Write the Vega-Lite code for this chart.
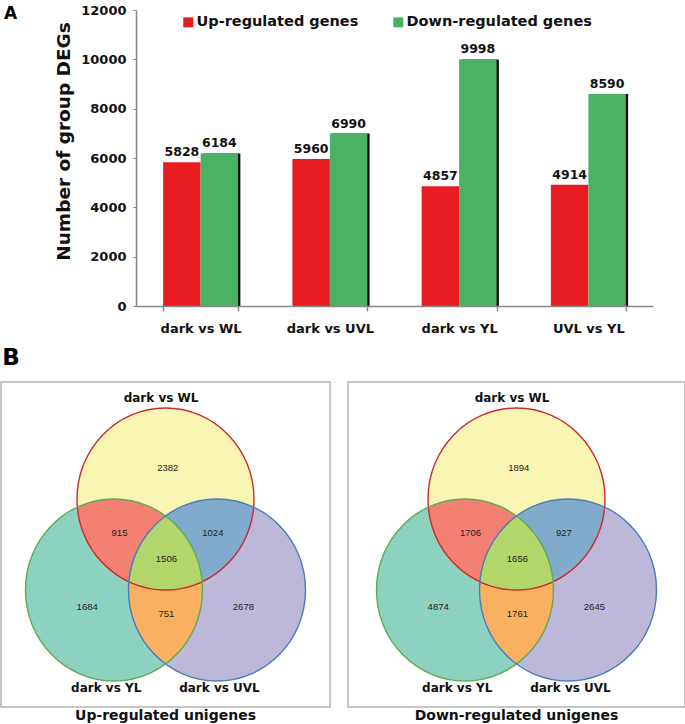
{
  "$schema": "https://vega.github.io/schema/vega-lite/v6.json",
  "background": "white",
  "padding": {"left": 0, "top": 4, "right": 0, "bottom": 0},
  "config": {"font": "DejaVu Sans", "view": {"stroke": null}},
  "datasets": {
    "degs": [
      {"comparison": "dark vs WL", "direction": "Up-regulated genes", "count": 5828},
      {"comparison": "dark vs WL", "direction": "Down-regulated genes", "count": 6184},
      {"comparison": "dark vs UVL", "direction": "Up-regulated genes", "count": 5960},
      {"comparison": "dark vs UVL", "direction": "Down-regulated genes", "count": 6990},
      {"comparison": "dark vs YL", "direction": "Up-regulated genes", "count": 4857},
      {"comparison": "dark vs YL", "direction": "Down-regulated genes", "count": 9998},
      {"comparison": "UVL vs YL", "direction": "Up-regulated genes", "count": 4914},
      {"comparison": "UVL vs YL", "direction": "Down-regulated genes", "count": 8590}
    ],
    "regions": [
      {"region": "T", "u": 0.025, "v": -0.84},
      {"region": "G", "u": -0.885, "v": 0.687},
      {"region": "P", "u": 0.88, "v": 0.687},
      {"region": "TG", "u": -0.52, "v": -0.126},
      {"region": "TP", "u": 0.535, "v": -0.126},
      {"region": "GP", "u": 0.01, "v": 0.764},
      {"region": "TGP", "u": 0.01, "v": 0.159}
    ],
    "counts": [
      {"panel": "up", "region": "T", "count": 2382},
      {"panel": "up", "region": "TG", "count": 915},
      {"panel": "up", "region": "TP", "count": 1024},
      {"panel": "up", "region": "TGP", "count": 1506},
      {"panel": "up", "region": "G", "count": 1684},
      {"panel": "up", "region": "GP", "count": 751},
      {"panel": "up", "region": "P", "count": 2678},
      {"panel": "down", "region": "T", "count": 1894},
      {"panel": "down", "region": "TG", "count": 1706},
      {"panel": "down", "region": "TP", "count": 927},
      {"panel": "down", "region": "TGP", "count": 1656},
      {"panel": "down", "region": "G", "count": 4874},
      {"panel": "down", "region": "GP", "count": 1761},
      {"panel": "down", "region": "P", "count": 2645}
    ],
    "circleNames": [
      {"region": "T", "name": "dark vs WL", "u": -0.05, "v": -1.61},
      {"region": "G", "name": "dark vs YL", "u": -0.67, "v": 1.577},
      {"region": "P", "name": "dark vs UVL", "u": 0.61, "v": 1.577}
    ]
  },
  "spacing": 12,
  "vconcat": [
    {
      "width": 652,
      "height": 296,
      "data": {"name": "degs"},
      "title": {"text": "A", "anchor": "start", "frame": "group", "orient": "top", "fontSize": 17, "fontWeight": "bold", "font": "DejaVu Sans", "color": "#000", "baseline": "top", "offset": 0, "dx": 3, "dy": 18.5},
      "encoding": {
        "x": {
          "field": "comparison", "type": "nominal",
          "sort": ["dark vs WL", "dark vs UVL", "dark vs YL", "UVL vs YL"],
          "scale": {"paddingInner": 0.42, "paddingOuter": 0.21, "range": [135, 652]},
          "axis": {"title": null, "labelAngle": 0, "labelFontSize": 13, "labelFontWeight": "bold", "labelColor": "#111", "tickBand": "extent", "tickSize": 5, "labelPadding": 11, "domainColor": "#888", "tickColor": "#888", "domainWidth": 1.5, "tickWidth": 1.5, "zindex": 1}
        },
        "y": {
          "field": "count", "type": "quantitative",
          "scale": {"domain": [0, 12000], "nice": false},
          "axis": {"offset": -135, "title": "Number of group DEGs", "titleFontSize": 18.5, "titleFontWeight": "bold", "titleFont": "DejaVu Sans", "titleColor": "#111", "titleX": -63, "titleY": 131, "values": [0, 2000, 4000, 6000, 8000, 10000, 12000], "format": "d", "grid": false, "tickSize": 3, "labelPadding": 7, "labelFontSize": 13, "labelFontWeight": "bold", "labelColor": "#111", "domainColor": "#888", "tickColor": "#888", "domainWidth": 1.5, "tickWidth": 1, "zindex": 1}
        }
      },
      "layer": [
        {
          "transform": [{"filter": "datum.direction === 'Down-regulated genes'"}],
          "mark": {"type": "bar", "color": "#0a0a0a", "width": {"band": 0.5}, "xOffset": 21}
        },
        {
          "mark": {"type": "bar"},
          "encoding": {
            "xOffset": {"field": "direction", "type": "nominal", "sort": ["Up-regulated genes", "Down-regulated genes"], "scale": {"paddingInner": 0, "paddingOuter": 0}},
            "color": {
              "field": "direction", "type": "nominal",
              "scale": {"domain": ["Up-regulated genes", "Down-regulated genes"], "range": ["#e81b23", "#4cb263"]},
              "legend": {"orient": "none", "legendX": 180, "legendY": 5, "direction": "horizontal", "title": null, "symbolType": "square", "symbolSize": 100, "symbolStrokeWidth": 0, "labelFontSize": 14.5, "labelFontWeight": "bold", "labelFont": "DejaVu Sans", "labelColor": "#111", "labelOffset": 1, "columnPadding": 32, "labelLimit": 400, "padding": 0}
            }
          }
        },
        {
          "mark": {"type": "text", "baseline": "alphabetic", "dy": -6, "fontSize": 12.5, "fontWeight": "bold", "color": "#111"},
          "encoding": {
            "xOffset": {"field": "direction", "type": "nominal", "sort": ["Up-regulated genes", "Down-regulated genes"], "scale": {"paddingInner": 0, "paddingOuter": 0}},
            "text": {"field": "count", "type": "quantitative", "format": "d"}
          }
        }
      ]
    },
    {
      "title": {"text": "B", "anchor": "start", "frame": "bounds", "fontSize": 23, "fontWeight": "bold", "font": "DejaVu Sans", "color": "#000", "baseline": "bottom", "offset": -12, "dx": 2},
      "spacing": 16,
      "hconcat": [
        {
          "width": 329,
          "height": 325,
          "view": {"stroke": "#b4b4b4", "strokeWidth": 1.5},
          "title": {"text": "Up-regulated unigenes", "orient": "bottom", "fontSize": 14, "fontWeight": "bold", "font": "DejaVu Sans", "color": "#111", "baseline": "top", "offset": 2},
          "layer": [
            {
              "data": {"name": "regions"},
              "mark": {"type": "point", "filled": true, "opacity": 1, "size": 4, "strokeWidth": 0},
              "encoding": {
                "x": {"datum": 0, "type": "quantitative", "scale": {"domain": [-1.8588, 1.8588], "nice": false, "zero": false}, "axis": null},
                "y": {"datum": 0, "type": "quantitative", "scale": {"domain": [-1.7857, 1.7857], "nice": false, "zero": false, "reverse": true}, "axis": null},
                "shape": {
                  "field": "region", "type": "nominal", "legend": null,
                  "scale": {
                    "domain": ["T", "G", "P", "TG", "TP", "GP", "TGP"],
                    "range": [
                      "M -88.5 -45.5 A 88.5 91 0 1 1 88.5 -45.5 A 88.5 91 0 1 1 -88.5 -45.5 Z",
                      "M -140 45.5 A 88.5 91 0 1 1 37 45.5 A 88.5 91 0 1 1 -140 45.5 Z",
                      "M -37 45.5 A 88.5 91 0 1 1 140 45.5 A 88.5 91 0 1 1 -37 45.5 Z",
                      "M -88.15 -37.34 A 88.5 91 0 0 1 36.65 37.34 A 88.5 91 0 0 1 -88.15 -37.34 Z",
                      "M -36.65 37.34 A 88.5 91 0 0 1 88.15 -37.34 A 88.5 91 0 0 1 -36.65 37.34 Z",
                      "M 0 -28.5 A 88.5 91 0 0 1 0 119.5 A 88.5 91 0 0 1 0 -28.5 Z",
                      "M -36.65 37.34 A 88.5 91 0 0 1 0 -28.5 A 88.5 91 0 0 1 36.65 37.34 A 88.5 91 0 0 1 -36.65 37.34 Z"
                    ]
                  }
                },
                "fill": {
                  "field": "region", "type": "nominal", "legend": null,
                  "scale": {"domain": ["T", "G", "P", "TG", "TP", "GP", "TGP"], "range": ["#f8f6b2", "#8dd1c1", "#bdb8da", "#f28073", "#80abcd", "#f9b061", "#b3d66b"]}
                }
              }
            },
            {
              "data": {"name": "regions"},
              "transform": [{"filter": {"field": "region", "oneOf": ["T", "G", "P"]}}],
              "mark": {"type": "point", "filled": false, "opacity": 1, "size": 4, "strokeWidth": 1.4},
              "encoding": {
                "x": {"datum": 0, "type": "quantitative", "scale": {"domain": [-1.8588, 1.8588], "nice": false, "zero": false}, "axis": null},
                "y": {"datum": 0, "type": "quantitative", "scale": {"domain": [-1.7857, 1.7857], "nice": false, "zero": false, "reverse": true}, "axis": null},
                "shape": {
                  "field": "region", "type": "nominal", "legend": null,
                  "scale": {
                    "domain": ["T", "G", "P", "TG", "TP", "GP", "TGP"],
                    "range": [
                      "M -88.5 -45.5 A 88.5 91 0 1 1 88.5 -45.5 A 88.5 91 0 1 1 -88.5 -45.5 Z",
                      "M -140 45.5 A 88.5 91 0 1 1 37 45.5 A 88.5 91 0 1 1 -140 45.5 Z",
                      "M -37 45.5 A 88.5 91 0 1 1 140 45.5 A 88.5 91 0 1 1 -37 45.5 Z",
                      "M -88.15 -37.34 A 88.5 91 0 0 1 36.65 37.34 A 88.5 91 0 0 1 -88.15 -37.34 Z",
                      "M -36.65 37.34 A 88.5 91 0 0 1 88.15 -37.34 A 88.5 91 0 0 1 -36.65 37.34 Z",
                      "M 0 -28.5 A 88.5 91 0 0 1 0 119.5 A 88.5 91 0 0 1 0 -28.5 Z",
                      "M -36.65 37.34 A 88.5 91 0 0 1 0 -28.5 A 88.5 91 0 0 1 36.65 37.34 A 88.5 91 0 0 1 -36.65 37.34 Z"
                    ]
                  }
                },
                "stroke": {
                  "field": "region", "type": "nominal", "legend": null,
                  "scale": {"domain": ["T", "G", "P"], "range": ["#cc2a2e", "#5dac55", "#4a7cb8"]}
                }
              }
            },
            {
              "data": {"name": "counts"},
              "transform": [
                {"filter": "datum.panel === 'up'"},
                {"lookup": "region", "from": {"data": {"name": "regions"}, "key": "region", "fields": ["u", "v"]}}
              ],
              "mark": {"type": "text", "font": "Liberation Sans", "fontSize": 9.5, "color": "#222"},
              "encoding": {
                "x": {"field": "u", "type": "quantitative", "scale": {"domain": [-1.8588, 1.8588], "nice": false, "zero": false}, "axis": null},
                "y": {"field": "v", "type": "quantitative", "scale": {"domain": [-1.7857, 1.7857], "nice": false, "zero": false, "reverse": true}, "axis": null},
                "text": {"field": "count", "type": "nominal"}
              }
            },
            {
              "data": {"name": "circleNames"},
              "mark": {"type": "text", "fontSize": 12, "fontWeight": "bold", "color": "#111"},
              "encoding": {
                "x": {"field": "u", "type": "quantitative", "scale": {"domain": [-1.8588, 1.8588], "nice": false, "zero": false}, "axis": null},
                "y": {"field": "v", "type": "quantitative", "scale": {"domain": [-1.7857, 1.7857], "nice": false, "zero": false, "reverse": true}, "axis": null},
                "text": {"field": "name", "type": "nominal"}
              }
            }
          ]
        },
        {
          "width": 337,
          "height": 325,
          "view": {"stroke": "#b4b4b4", "strokeWidth": 1.5},
          "title": {"text": "Down-regulated unigenes", "orient": "bottom", "fontSize": 14, "fontWeight": "bold", "font": "DejaVu Sans", "color": "#111", "baseline": "top", "offset": 2},
          "layer": [
            {
              "data": {"name": "regions"},
              "mark": {"type": "point", "filled": true, "opacity": 1, "size": 4, "strokeWidth": 0},
              "encoding": {
                "x": {"datum": 0, "type": "quantitative", "scale": {"domain": [-1.904, 1.904], "nice": false, "zero": false}, "axis": null},
                "y": {"datum": 0, "type": "quantitative", "scale": {"domain": [-1.7857, 1.7857], "nice": false, "zero": false, "reverse": true}, "axis": null},
                "shape": {
                  "field": "region", "type": "nominal", "legend": null,
                  "scale": {
                    "domain": ["T", "G", "P", "TG", "TP", "GP", "TGP"],
                    "range": [
                      "M -88.5 -45.5 A 88.5 91 0 1 1 88.5 -45.5 A 88.5 91 0 1 1 -88.5 -45.5 Z",
                      "M -140 45.5 A 88.5 91 0 1 1 37 45.5 A 88.5 91 0 1 1 -140 45.5 Z",
                      "M -37 45.5 A 88.5 91 0 1 1 140 45.5 A 88.5 91 0 1 1 -37 45.5 Z",
                      "M -88.15 -37.34 A 88.5 91 0 0 1 36.65 37.34 A 88.5 91 0 0 1 -88.15 -37.34 Z",
                      "M -36.65 37.34 A 88.5 91 0 0 1 88.15 -37.34 A 88.5 91 0 0 1 -36.65 37.34 Z",
                      "M 0 -28.5 A 88.5 91 0 0 1 0 119.5 A 88.5 91 0 0 1 0 -28.5 Z",
                      "M -36.65 37.34 A 88.5 91 0 0 1 0 -28.5 A 88.5 91 0 0 1 36.65 37.34 A 88.5 91 0 0 1 -36.65 37.34 Z"
                    ]
                  }
                },
                "fill": {
                  "field": "region", "type": "nominal", "legend": null,
                  "scale": {"domain": ["T", "G", "P", "TG", "TP", "GP", "TGP"], "range": ["#f8f6b2", "#8dd1c1", "#bdb8da", "#f28073", "#80abcd", "#f9b061", "#b3d66b"]}
                }
              }
            },
            {
              "data": {"name": "regions"},
              "transform": [{"filter": {"field": "region", "oneOf": ["T", "G", "P"]}}],
              "mark": {"type": "point", "filled": false, "opacity": 1, "size": 4, "strokeWidth": 1.4},
              "encoding": {
                "x": {"datum": 0, "type": "quantitative", "scale": {"domain": [-1.904, 1.904], "nice": false, "zero": false}, "axis": null},
                "y": {"datum": 0, "type": "quantitative", "scale": {"domain": [-1.7857, 1.7857], "nice": false, "zero": false, "reverse": true}, "axis": null},
                "shape": {
                  "field": "region", "type": "nominal", "legend": null,
                  "scale": {
                    "domain": ["T", "G", "P", "TG", "TP", "GP", "TGP"],
                    "range": [
                      "M -88.5 -45.5 A 88.5 91 0 1 1 88.5 -45.5 A 88.5 91 0 1 1 -88.5 -45.5 Z",
                      "M -140 45.5 A 88.5 91 0 1 1 37 45.5 A 88.5 91 0 1 1 -140 45.5 Z",
                      "M -37 45.5 A 88.5 91 0 1 1 140 45.5 A 88.5 91 0 1 1 -37 45.5 Z",
                      "M -88.15 -37.34 A 88.5 91 0 0 1 36.65 37.34 A 88.5 91 0 0 1 -88.15 -37.34 Z",
                      "M -36.65 37.34 A 88.5 91 0 0 1 88.15 -37.34 A 88.5 91 0 0 1 -36.65 37.34 Z",
                      "M 0 -28.5 A 88.5 91 0 0 1 0 119.5 A 88.5 91 0 0 1 0 -28.5 Z",
                      "M -36.65 37.34 A 88.5 91 0 0 1 0 -28.5 A 88.5 91 0 0 1 36.65 37.34 A 88.5 91 0 0 1 -36.65 37.34 Z"
                    ]
                  }
                },
                "stroke": {
                  "field": "region", "type": "nominal", "legend": null,
                  "scale": {"domain": ["T", "G", "P"], "range": ["#cc2a2e", "#5dac55", "#4a7cb8"]}
                }
              }
            },
            {
              "data": {"name": "counts"},
              "transform": [
                {"filter": "datum.panel === 'down'"},
                {"lookup": "region", "from": {"data": {"name": "regions"}, "key": "region", "fields": ["u", "v"]}}
              ],
              "mark": {"type": "text", "font": "Liberation Sans", "fontSize": 9.5, "color": "#222"},
              "encoding": {
                "x": {"field": "u", "type": "quantitative", "scale": {"domain": [-1.904, 1.904], "nice": false, "zero": false}, "axis": null},
                "y": {"field": "v", "type": "quantitative", "scale": {"domain": [-1.7857, 1.7857], "nice": false, "zero": false, "reverse": true}, "axis": null},
                "text": {"field": "count", "type": "nominal"}
              }
            },
            {
              "data": {"name": "circleNames"},
              "mark": {"type": "text", "fontSize": 12, "fontWeight": "bold", "color": "#111"},
              "encoding": {
                "x": {"field": "u", "type": "quantitative", "scale": {"domain": [-1.904, 1.904], "nice": false, "zero": false}, "axis": null},
                "y": {"field": "v", "type": "quantitative", "scale": {"domain": [-1.7857, 1.7857], "nice": false, "zero": false, "reverse": true}, "axis": null},
                "text": {"field": "name", "type": "nominal"}
              }
            }
          ]
        }
      ]
    }
  ]
}
